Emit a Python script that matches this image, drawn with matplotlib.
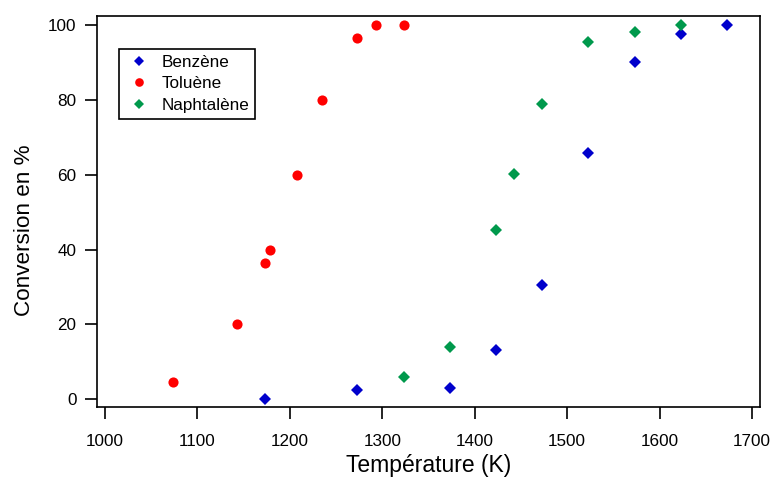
import matplotlib
matplotlib.use("Agg")
import matplotlib.pyplot as plt

plt.rcParams['font.family'] = ['Liberation Sans', 'DejaVu Sans']

# Benzène
benz_T = [1173, 1273, 1373, 1423, 1473, 1523, 1573, 1623, 1673]
benz_conv = [0.0, 2.4, 3.1, 13.2, 30.6, 65.9, 90.0, 97.6, 100.0]

# Toluène
tol_T = [1073, 1143, 1173, 1178, 1208, 1235, 1273, 1293, 1323]
tol_conv = [4.6, 20.0, 36.5, 40.0, 60.0, 80.0, 96.4, 100.0, 100.0]

# Naphtalène
naph_T = [1323, 1373, 1423, 1443, 1473, 1523, 1573, 1623]
naph_conv = [5.9, 14.1, 45.2, 60.1, 78.8, 95.4, 98.0, 100.0]

xticks = [1000, 1100, 1200, 1300, 1400, 1500, 1600, 1700]
yticks = [0, 20, 40, 60, 80, 100]

fig = plt.figure(figsize=(7.74, 4.78), dpi=100)
ax = fig.add_axes([97/774, 1 - 407/478, (760-97)/774, (407-16)/478])

ax.plot(benz_T, benz_conv, 'D', color='#0000cc', ms=6, mew=0, label='Benzène')
ax.plot(tol_T, tol_conv, 'o', color='#ff0000', ms=7.3, mew=0, label='Toluène')
ax.plot(naph_T, naph_conv, 'D', color='#00994c', ms=6, mew=0, label='Naphtalène')

ax.set_xlim(991.3, 1708.7)
ax.set_ylim(-2.06, 102.4)
ax.set_xticks(xticks)
ax.set_yticks(yticks)
ax.tick_params(direction='out', length=8.8, width=1.2, labelsize=12.3)
ax.tick_params(axis='x', pad=10.5)
ax.tick_params(axis='y', pad=6)
ax.tick_params(top=False, right=False)
for s in ax.spines.values():
    s.set_linewidth(1.2)

ax.set_xlabel('Température (K)', fontsize=16.5, labelpad=4)
ax.set_ylabel('Conversion en %', fontsize=16.2)
ax.yaxis.set_label_coords(-0.094, 0.453)

leg = ax.legend(loc='upper left', bbox_to_anchor=(0.033, 0.9156), borderaxespad=0,
                fontsize=12.3, fancybox=False, edgecolor='black', framealpha=1,
                handletextpad=0.55, labelspacing=0.38, borderpad=0.35, markerscale=0.85,
                handlelength=1.6)
leg.get_frame().set_linewidth(1.2)

fig.savefig('out.png', dpi=100)
